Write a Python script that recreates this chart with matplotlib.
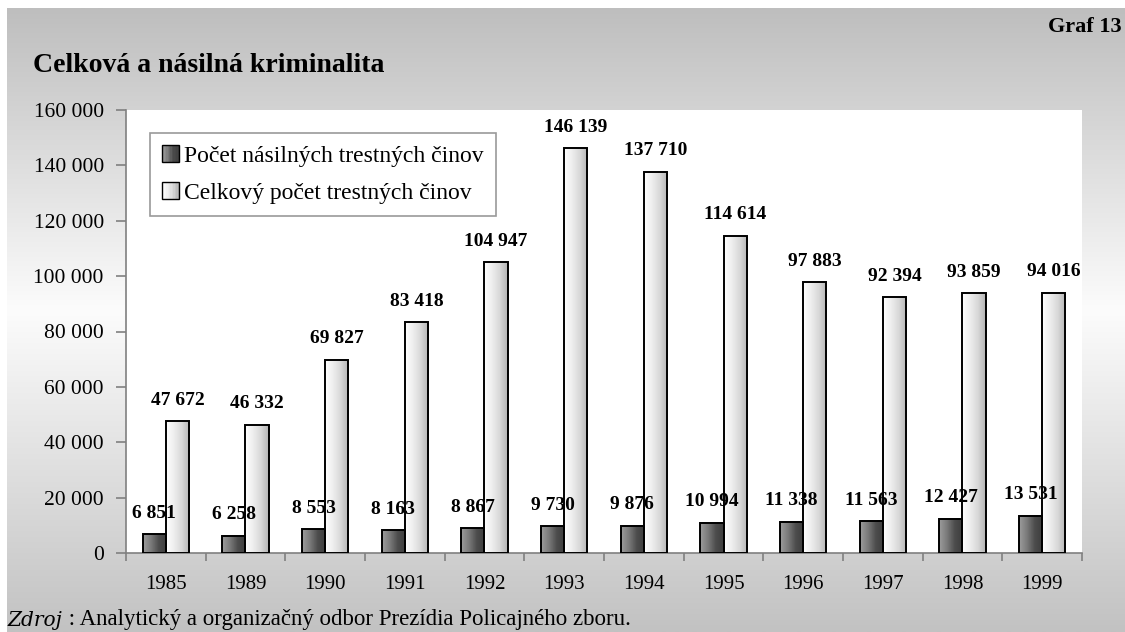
import numpy as np
import matplotlib
matplotlib.use("Agg")
import matplotlib.pyplot as plt
from matplotlib.colors import LinearSegmentedColormap
from matplotlib.legend_handler import HandlerBase
from matplotlib.patches import Rectangle

# Data
years = ['1985', '1989', '1990', '1991', '1992', '1993',
         '1994', '1995', '1996', '1997', '1998', '1999']
violent = [6851, 6258, 8553, 8163, 8867, 9730, 9876, 10994, 11338, 11563, 12427, 13531]
total = [47672, 46332, 69827, 83418, 104947, 146139, 137710, 114614, 97883, 92394, 93859, 94016]
series_names = ['Počet násilných trestných činov', 'Celkový počet trestných činov']

plt.rcParams['font.family'] = ['Liberation Serif', 'DejaVu Serif']

dark_cmap = LinearSegmentedColormap.from_list('dark', ['#9c9c9c', '#7a7a7a', '#4c4c4c', '#3e3e3e'])
light_cmap = LinearSegmentedColormap.from_list('light', ['#ffffff', '#eeeeee', '#d8d8d8', '#b4b4b4'])


def fmt(v):
    return f"{v:,}".replace(',', ' ')


class GradientHandler(HandlerBase):
    """legend swatch made of thin stripes so it looks like the gradient bars"""
    def __init__(self, cmap):
        super().__init__()
        self.cmap = cmap

    def create_artists(self, legend, orig_handle, xdescent, ydescent, width, height, fontsize, trans):
        n = 12
        size = height
        x0 = -xdescent
        y0 = -ydescent
        arts = []
        for i in range(n):
            r = Rectangle((x0 + i * size / n, y0), size / n, size,
                          facecolor=self.cmap(i / (n - 1)), edgecolor='none', transform=trans)
            arts.append(r)
        arts.append(Rectangle((x0, y0), size, size, facecolor='none',
                              edgecolor='black', lw=1.0, transform=trans))
        return arts


def main():
    W, H = 1125, 632
    fig = plt.figure(figsize=(W / 100, H / 100), dpi=100)
    fig.patch.set_facecolor('white')

    # background vertical gradient (grey - white - grey)
    bg = fig.add_axes([0, 0, 1, 1], zorder=-10)
    bg.set_xlim(0, W)
    bg.set_ylim(H, 0)
    bg.axis('off')
    ys = np.linspace(8, H, 300)
    vals = np.interp(ys, [8, 310, H], [190, 252, 194]) / 255.0
    grad = np.repeat(vals[:, None], 3, axis=1)[:, None, :]
    bg.imshow(grad, extent=(7, W, H, 8), aspect='auto', interpolation='bilinear')

    ax = fig.add_axes([126 / W, 1 - 553 / H, (1082 - 126) / W, (553 - 110) / H])
    ax.set_facecolor('white')

    x = np.arange(len(years))
    bw = 0.29
    b1 = ax.bar(x - bw / 2, violent, bw, facecolor='none', edgecolor='black', lw=1.4, zorder=4)
    b2 = ax.bar(x + bw / 2, total, bw, facecolor='none', edgecolor='black', lw=1.4, zorder=4)

    ramp = np.linspace(0, 1, 64)[None, :]
    for bars, cmap in ((b1, dark_cmap), (b2, light_cmap)):
        for r in bars:
            x0 = r.get_x()
            ax.imshow(ramp, cmap=cmap, extent=(x0, x0 + r.get_width(), 0, r.get_height()),
                      aspect='auto', zorder=3, interpolation='bilinear')

    # value labels: over the bar fill but under the bar outlines
    for i in range(len(years)):
        ax.annotate(fmt(violent[i]), (x[i] - bw / 2, violent[i]), xytext=(0, 15),
                    textcoords='offset points', ha='center', va='center',
                    fontsize=14, fontweight='bold', zorder=3.5)
        ax.annotate(fmt(total[i]), (x[i] + bw / 2, total[i]), xytext=(0, 15),
                    textcoords='offset points', ha='center', va='center',
                    fontsize=14, fontweight='bold', zorder=3.5)

    ax.set_xlim(-0.5, len(years) - 0.5)
    ax.set_ylim(0, 160000)

    for s in ['top', 'right']:
        ax.spines[s].set_visible(False)
    for s in ['left', 'bottom']:
        ax.spines[s].set_color('#808080')
        ax.spines[s].set_linewidth(1.2)

    ax.set_xticks(np.arange(-0.5, len(years)), labels=[''] * (len(years) + 1))
    ax.set_xticks(x, labels=years, minor=True)
    ax.tick_params(axis='x', which='major', length=6, width=1.2, color='#808080', direction='out')
    ax.tick_params(axis='x', which='minor', length=0, pad=16, labelsize=15)

    yt = np.arange(0, 160001, 20000)
    ax.set_yticks(yt, labels=[fmt(v) for v in yt])
    ax.tick_params(axis='y', length=7, width=1.2, color='#808080', direction='out', pad=9, labelsize=15.5)

    leg = ax.legend([b1, b2], series_names, loc='upper left',
                    bbox_to_anchor=(150 / W, 1 - 133 / H), bbox_transform=fig.transFigure,
                    handler_map={b1: GradientHandler(dark_cmap), b2: GradientHandler(light_cmap)},
                    fontsize=17, frameon=True, fancybox=False, edgecolor='#808080',
                    handlelength=0.75, handleheight=0.75, handletextpad=0.2,
                    labelspacing=0.65, borderpad=0.5, borderaxespad=0)
    leg.get_frame().set_linewidth(1.2)
    leg.get_frame().set_facecolor('white')
    leg.set_zorder(10)

    fig.text(33 / W, 1 - 65 / H, 'Celková a násilná kriminalita', fontsize=20,
             fontweight='bold', va='center', ha='left')
    fig.text(1122 / W, 1 - 27 / H, 'Graf 13', fontsize=16, fontweight='bold',
             va='center', ha='right')

    t1 = fig.text(8 / W, 1 - 620 / H, 'Zdroj', fontsize=14.5, fontstyle='italic',
                  family='DejaVu Serif', va='center', ha='left')
    fig.canvas.draw()
    ext = t1.get_window_extent()
    fig.text(ext.x1 / W, 1 - 620 / H, ' : Analytický a organizačný odbor Prezídia Policajného zboru.',
             fontsize=16.5, va='center', ha='left')

    fig.savefig('out.png', dpi=100)


if __name__ == "__main__":
    main()
